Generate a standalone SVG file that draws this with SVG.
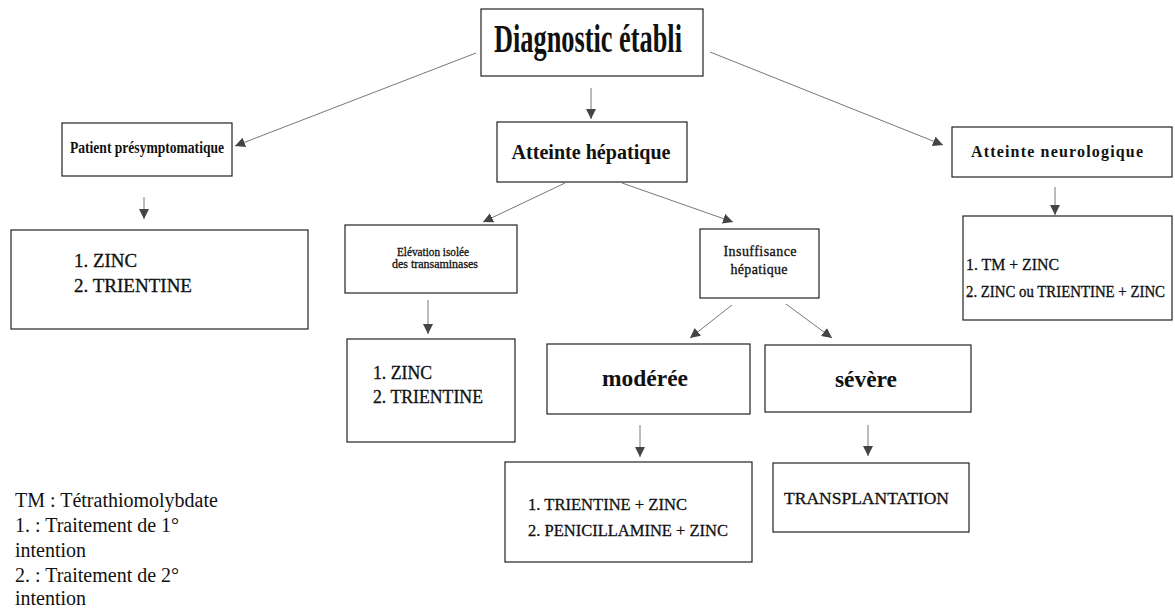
<svg xmlns="http://www.w3.org/2000/svg" width="1175" height="610" viewBox="0 0 1175 610">
<style>
.box{fill:#fff;stroke:#222;stroke-width:1.2}
.t{font-family:"Liberation Serif","Times New Roman",serif;fill:#111}
.b{font-weight:bold}
.r{stroke:#111;stroke-width:0.3}
.c{text-anchor:middle}
.con line{stroke:#777;stroke-width:1}
</style>
<defs>
<marker id="ah" markerUnits="userSpaceOnUse" markerWidth="11" markerHeight="10" refX="10" refY="5" orient="auto">
<path d="M0,0 L10,5 L0,10 z" fill="#444"/>
</marker>
</defs>
<rect width="1175" height="610" fill="#fff"/>
<g class="con">
<line x1="476" y1="53" x2="235" y2="146" marker-end="url(#ah)"/>
<line x1="591" y1="88" x2="591" y2="119" marker-end="url(#ah)"/>
<line x1="710" y1="52" x2="943" y2="145" marker-end="url(#ah)"/>
<line x1="144" y1="197" x2="144" y2="219" marker-end="url(#ah)"/>
<line x1="565" y1="183" x2="483" y2="222" marker-end="url(#ah)"/>
<line x1="622" y1="183" x2="733" y2="222" marker-end="url(#ah)"/>
<line x1="1055" y1="187" x2="1055" y2="215" marker-end="url(#ah)"/>
<line x1="428" y1="300" x2="428" y2="334" marker-end="url(#ah)"/>
<line x1="732" y1="305" x2="690" y2="338" marker-end="url(#ah)"/>
<line x1="786" y1="304" x2="832" y2="338" marker-end="url(#ah)"/>
<line x1="640" y1="425" x2="640" y2="457" marker-end="url(#ah)"/>
<line x1="868" y1="425" x2="868" y2="456" marker-end="url(#ah)"/>
</g>
<g id="diag">
<rect class="box" x="481" y="9" width="222" height="67"/>
<text class="t b c" x="588" y="52" font-size="40" textLength="188" lengthAdjust="spacingAndGlyphs">Diagnostic établi</text>
</g>
<g id="patient">
<rect class="box" x="62" y="123" width="170" height="53"/>
<text class="t b c" x="147" y="153" font-size="16" textLength="154" lengthAdjust="spacingAndGlyphs">Patient présymptomatique</text>
</g>
<g id="hepatique">
<rect class="box" x="497" y="122" width="190" height="60"/>
<text class="t b c" x="591" y="159" font-size="20" textLength="159" lengthAdjust="spacingAndGlyphs">Atteinte hépatique</text>
</g>
<g id="neuro">
<rect class="box" x="952" y="127" width="220" height="50"/>
<text class="t b c" x="1057" y="157" font-size="16" textLength="172" lengthAdjust="spacing">Atteinte neurologique</text>
</g>
<g id="zinc1">
<rect class="box" x="11" y="230" width="297" height="99"/>
<text class="t r" x="74" y="267" font-size="18" textLength="63" lengthAdjust="spacingAndGlyphs">1. ZINC</text>
<text class="t r" x="74" y="292" font-size="18" textLength="118" lengthAdjust="spacingAndGlyphs">2. TRIENTINE</text>
</g>
<g id="elevation">
<rect class="box" x="345" y="225" width="172" height="68"/>
<text class="t c r" x="433" y="256" font-size="12" stroke-width="0.2" textLength="72" lengthAdjust="spacingAndGlyphs">Elévation isolée</text>
<text class="t c r" x="435" y="268" font-size="12" stroke-width="0.2" textLength="86" lengthAdjust="spacingAndGlyphs">des transaminases</text>
</g>
<g id="insuffisance">
<rect class="box" x="700" y="229" width="119" height="69"/>
<text class="t c r" x="760" y="256" font-size="14" textLength="73" lengthAdjust="spacing">Insuffisance</text>
<text class="t c r" x="759" y="274" font-size="14" textLength="57" lengthAdjust="spacing">hépatique</text>
</g>
<g id="tm">
<rect class="box" x="963" y="216" width="209" height="104"/>
<text class="t r" x="966" y="270" font-size="16" textLength="93" lengthAdjust="spacingAndGlyphs">1. TM + ZINC</text>
<text class="t r" x="966" y="297" font-size="14.5" textLength="199" lengthAdjust="spacingAndGlyphs" transform="translate(966 297) scale(1 1.1) translate(-966 -297)">2. ZINC ou TRIENTINE + ZINC</text>
</g>
<g id="zinc2">
<rect class="box" x="347" y="339" width="168" height="103"/>
<text class="t r" x="373" y="379" font-size="18" textLength="59" lengthAdjust="spacingAndGlyphs">1. ZINC</text>
<text class="t r" x="373" y="403" font-size="18" textLength="110" lengthAdjust="spacingAndGlyphs">2. TRIENTINE</text>
</g>
<g id="moderee">
<rect class="box" x="547" y="344" width="203" height="70"/>
<text class="t b c" x="645" y="386" font-size="23" textLength="86" lengthAdjust="spacingAndGlyphs">modérée</text>
</g>
<g id="severe">
<rect class="box" x="765" y="345" width="206" height="67"/>
<text class="t b c" x="866" y="387" font-size="23" textLength="62" lengthAdjust="spacingAndGlyphs">sévère</text>
</g>
<g id="traitement">
<rect class="box" x="505" y="462" width="247" height="100"/>
<text class="t r" x="528" y="510" font-size="17" textLength="159" lengthAdjust="spacingAndGlyphs">1. TRIENTINE + ZINC</text>
<text class="t r" x="528" y="536" font-size="17" textLength="200" lengthAdjust="spacingAndGlyphs">2. PENICILLAMINE + ZINC</text>
</g>
<g id="transplantation">
<rect class="box" x="773" y="463" width="196" height="69"/>
<text class="t r" x="784" y="504" font-size="17" textLength="165" lengthAdjust="spacingAndGlyphs">TRANSPLANTATION</text>
</g>
<g id="legende">
<text class="t" x="15" y="507" font-size="20">TM : Tétrathiomolybdate</text>
<text class="t" x="15" y="532" font-size="20">1. : Traitement de 1°</text>
<text class="t" x="15" y="557" font-size="20">intention</text>
<text class="t" x="15" y="582" font-size="20">2. : Traitement de 2°</text>
<text class="t" x="15" y="605" font-size="20">intention</text>
</g>
</svg>
